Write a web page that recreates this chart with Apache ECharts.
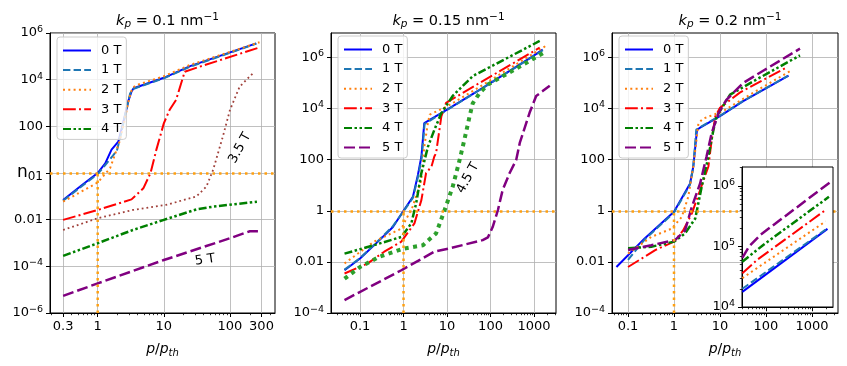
<!DOCTYPE html>
<html>
<head>
<meta charset="utf-8">
<script src="https://cdn.jsdelivr.net/npm/echarts@6/dist/echarts.min.js"></script>
<style>
  html, body { margin: 0; padding: 0; background: #fff; }
  #main { width: 847px; height: 366px; }
</style>
</head>
<body>
<div id="main"></div>
<script>
// ---- kp = 0.1 nm^-1 : [p/pth, n]
var k1_0T  = [[0.3,0.07],[0.6,0.33],[1,1.0],[1.3,2.6],[1.62,10],[2.05,22],[2.5,200],[2.9,1200],[3.25,3100],[3.5,4300],[10,12000],[25,38000],[250,360000]];
var k1_1T  = [[0.3,0.065],[0.6,0.3],[1,0.9],[1.3,2.2],[1.7,5.5],[1.95,9],[2.3,60],[2.7,500],[3.1,2600],[3.5,4100],[10,11500],[25,36000],[250,350000]];
var k1_2T  = [[0.3,0.059],[1,0.39],[1.54,1.6],[2.17,25],[2.6,250],[3.0,1600],[3.3,4000],[3.7,5600],[10,14000],[25,43000],[280,400000]];
var k1_3T  = [[0.3,0.0098],[1,0.026],[3.25,0.074],[4.9,0.22],[6.3,1.0],[7.7,9.8],[10,135],[12.2,500],[15.3,1350],[20.7,22000],[35,36000],[265,230000]];
var k1_35T = [[0.3,0.0036],[1,0.0115],[3.4,0.026],[10.8,0.043],[31,0.098],[44,0.26],[55.6,1.35],[78,36],[100,500],[140,5000],[187,11500],[235,22000]];
var k1_4T  = [[0.3,0.00028],[1,0.00098],[3.4,0.0036],[10,0.0098],[31,0.0275],[55.6,0.036],[256,0.059]];
var k1_5T  = [[0.3,5.4e-6],[1,1.86e-5],[10,1.86e-4],[100,0.0016],[200,0.0032],[265,0.0032]];

// ---- kp = 0.15 nm^-1
var k2_0T  = [[0.044,0.0047],[0.1,0.0135],[0.28,0.071],[0.57,0.23],[1,1],[1.64,3.5],[2.14,25],[2.57,130],[3.0,2700],[3.3,2900],[10,9000],[56,54000],[930,1.1e6],[1580,2.0e6]];
var k2_1T  = [[0.044,0.005],[0.1,0.014],[0.28,0.075],[0.57,0.25],[1,0.95],[1.64,3.2],[2.2,25],[2.62,120],[3.05,2500],[3.4,2800],[10,8800],[56,53000],[1000,1.15e6],[1600,1.9e6]];
var k2_2T  = [[0.044,0.0087],[0.21,0.062],[0.89,0.2],[1.62,1.45],[2.57,16],[3.0,316],[3.63,2700],[4.0,5800],[10,12000],[79,1e5],[2100,3.2e6]];
var k2_3T  = [[0.044,0.0035],[0.15,0.0087],[0.36,0.025],[0.89,0.062],[1.78,0.32],[2.57,2.6],[3.3,30],[4.4,54],[5.1,132],[5.6,180],[7.4,4900],[9.5,16600],[56,1e5],[1350,2.4e6]];
var k2_4T  = [[0.044,0.021],[0.21,0.045],[0.89,0.095],[1.51,0.32],[1.95,1.95],[2.57,30],[3.63,316],[5.1,1450],[7.4,6600],[13.5,31000],[39,186000],[1350,4.4e6]];
var k2_45T = [[0.044,0.0022],[0.1,0.0063],[0.28,0.016],[1,0.033],[2.8,0.045],[5.6,0.13],[8.7,1.0],[13.5,8.7],[19.5,98],[25,590],[33,4900],[39,16000],[56,40000],[87,87000],[320,3e5],[1740,1.6e6]];
var k2_5T  = [[0.044,3.2e-4],[0.89,0.0047],[5.1,0.025],[11.5,0.034],[66,0.071],[87,0.091],[112,0.23],[148,1.07],[190,6.5],[275,30],[390,98],[470,450],[790,6800],[1120,31000],[1580,48000],[2300,78000]];

// ---- kp = 0.2 nm^-1
var k3_0T  = [[0.056,0.0063],[0.23,0.083],[1,0.91],[2.24,11.7],[2.63,54],[3.16,1450],[3.55,1700],[10,5000],[32,19500],[310,195000]];
var k3_1T  = [[0.1,0.012],[0.23,0.075],[1,0.85],[2.2,10],[2.6,45],[3.05,1500],[3.5,1750],[10,5200],[32,20000],[300,190000]];
var k3_2T  = [[0.1,0.021],[0.32,0.095],[0.89,0.2],[1.48,0.58],[2.04,3.5],[2.63,54],[3.4,2700],[4.3,4000],[11.7,7900],[45,35000],[340,295000]];
var k3_3T  = [[0.1,0.0063],[0.39,0.029],[1,0.062],[1.58,0.17],[2.45,0.79],[3.7,6.5],[5.6,54],[6.6,590],[7.9,4900],[10,10700],[27,42000],[280,4e5]];
var k3_4T  = [[0.1,0.034],[0.32,0.039],[1,0.062],[1.74,0.13],[2.9,0.5],[4.0,8.7],[5.6,132],[7.2,1450],[8.5,5000],[16.6,35000],[63,138000],[550,1.2e6]];
var k3_5T  = [[0.1,0.029],[0.32,0.045],[1.05,0.071],[1.74,0.17],[2.45,1.45],[3.7,11.7],[5.1,132],[6.6,1100],[9.3,6600],[13.8,22000],[32,1e5],[87,3e5],[550,2.2e6]];

// ---- inset of kp = 0.2 panel
var in_0T = [[30,17800],[2140,195000]];
var in_1T = [[30,20000],[1950,190000]];
var in_2T = [[30,30000],[1950,260000]];
var in_3T = [[30,36000],[63,60000],[1950,400000]];
var in_4T = [[30,56000],[87,107000],[2300,660000]];
var in_5T = [[30,65000],[42,100000],[74,155000],[2750,1.23e6]];

// reference lines (n = 1, p = pth)
var refV1 = [[1,1e-6],[1,1]];
var refV2 = [[1,1e-4],[1,1]];

// ticks
var X1_TICKS = [0.3, 1, 10, 100, 300];
var X23_TICKS = [0.1, 1, 10, 100, 1000];
var Y1_TICKS = [1e-6, 1e-4, 0.01, 1, 100, 1e4, 1e6];
var Y23_TICKS = [1e-4, 0.01, 1, 100, 1e4, 1e6];
var XIN_TICKS = [100, 1000];
var YIN_TICKS = [1e4, 1e5, 1e6];

var LEGEND_NAMES = ['0 T', '1 T', '2 T', '3 T', '4 T', '5 T'];

var FONT = 'DejaVu Sans';
var STY = {
  '0 T':   { color: '#0000ff', width: 2,   dash: 'solid' },
  '1 T':   { color: '#1f77b4', width: 2,   dash: [7.4, 3.2] },
  '2 T':   { color: '#ff7f0e', width: 2,   dash: [2, 3.3] },
  '3 T':   { color: '#ff0000', width: 2,   dash: [12.8, 3.2, 2, 3.2] },
  '4 T':   { color: '#008000', width: 2.5, dash: [8, 2.5, 2.5, 2.5, 2.5, 2.5] },
  '5 T':   { color: '#800080', width: 2.5, dash: [11, 4] },
  '3.5 T': { color: '#a0403a', width: 1.8, dash: [1.8, 3] },
  '4.5 T': { color: '#2ca02c', width: 4,   dash: [4, 4.5] }
};

function minors(lo, hi) {
  var out = [];
  for (var e = lo; e <= hi; e++) {
    for (var m = 2; m <= 9; m++) out.push(+(m * Math.pow(10, e)).toPrecision(3));
  }
  return out;
}

var supRich = {
  sup: { fontSize: 9.5, padding: [0, 0, 7, 0] },
  n: { fontSize: 17 },
  sub: { fontSize: 12, padding: [8, 0, 0, 0] }
};

function yFmt(useN) {
  return function (v) {
    var e = Math.round(Math.log10(v));
    if (e === 0) return useN ? '{n|n}{sub|01}' : '1';
    if (e === 2) return '100';
    if (e === -2) return '0.01';
    return '10{sup|' + (e < 0 ? '\u2212' + (-e) : e) + '}';
  };
}
function xFmt(v) { return String(+(+v).toPrecision(3)); }

var nameRich = {
  i: { fontStyle: 'italic', fontSize: 14 },
  isub: { fontStyle: 'italic', fontSize: 10, padding: [7, 0, 0, 0] }
};

function xMajor(g, min, max, ticks) {
  return {
    type: 'log', logBase: 10, gridIndex: g, min: min, max: max, position: 'bottom',
    axisLine: { show: true, onZero: false, lineStyle: { color: '#000', width: 1 } },
    axisTick: { show: true, length: 4, customValues: ticks, lineStyle: { color: '#000', width: 1 } },
    axisLabel: { show: true, customValues: ticks, formatter: xFmt, margin: 7, fontSize: 13, color: '#000', fontFamily: FONT },
    splitLine: { show: true, lineStyle: { color: '#b0b0b0', width: 0.8 } },
    name: '{i|p}/{i|p}{isub|th}', nameLocation: 'middle', nameGap: 28,
    nameTextStyle: { fontSize: 14, color: '#000', fontFamily: FONT, rich: nameRich }
  };
}
function minorAxis(kind, g, min, max, vals, z) {
  return {
    type: 'log', logBase: 10, gridIndex: g, min: min, max: max,
    position: kind === 'x' ? 'bottom' : 'left', z: z || 0,
    axisLine: { show: false },
    axisTick: { show: true, length: 2.2, customValues: vals, lineStyle: { color: '#000', width: 0.8 } },
    axisLabel: { show: false },
    splitLine: { show: false }
  };
}
function yMajor(g, min, max, ticks, useN) {
  return {
    type: 'log', logBase: 10, gridIndex: g, min: min, max: max, position: 'left',
    axisLine: { show: true, onZero: false, lineStyle: { color: '#000', width: 1 } },
    axisTick: { show: true, length: 4, customValues: ticks, lineStyle: { color: '#000', width: 1 } },
    axisLabel: { show: true, customValues: ticks, formatter: yFmt(useN), margin: 7, fontSize: 13, color: '#000', fontFamily: FONT, rich: supRich },
    splitLine: { show: true, lineStyle: { color: '#b0b0b0', width: 0.8 } }
  };
}

function curve(name, data, xi, yi, z) {
  var s = STY[name];
  return {
    name: name, type: 'line', data: data, xAxisIndex: xi, yAxisIndex: yi,
    symbol: 'none', showSymbol: false, silent: true, z: z || 2,
    lineStyle: { color: s.color, width: s.width, type: s.dash, cap: 'butt' },
    itemStyle: { color: s.color }
  };
}
function refLine(data, xi, yi) {
  var st = { color: '#ffa010', width: 2.5, type: [2.5, 4], cap: 'butt' };
  return {
    type: 'line', data: data, xAxisIndex: xi, yAxisIndex: yi, symbol: 'none', silent: true, z: 3,
    lineStyle: st,
    markLine: { symbol: 'none', silent: true, animation: false, label: { show: false },
      lineStyle: st, data: [{ yAxis: 1 }] }
  };
}

var series = [];
[['0 T', k1_0T], ['1 T', k1_1T], ['2 T', k1_2T], ['3 T', k1_3T], ['4 T', k1_4T], ['5 T', k1_5T], ['3.5 T', k1_35T]]
  .forEach(function (d) { series.push(curve(d[0], d[1], 0, 0)); });
[['0 T', k2_0T], ['1 T', k2_1T], ['2 T', k2_2T], ['3 T', k2_3T], ['4 T', k2_4T], ['5 T', k2_5T], ['4.5 T', k2_45T]]
  .forEach(function (d) { series.push(curve(d[0], d[1], 1, 1)); });
[['0 T', k3_0T], ['1 T', k3_1T], ['2 T', k3_2T], ['3 T', k3_3T], ['4 T', k3_4T], ['5 T', k3_5T]]
  .forEach(function (d) { series.push(curve(d[0], d[1], 2, 2)); });
[['0 T', in_0T], ['1 T', in_1T], ['2 T', in_2T], ['3 T', in_3T], ['4 T', in_4T], ['5 T', in_5T]]
  .forEach(function (d) { series.push(curve(d[0], d[1], 3, 3, 12)); });
series.push(refLine(refV1, 0, 0));
series.push(refLine(refV2, 1, 1));
series.push(refLine(refV2, 2, 2));

var X1 = [0.19, 480], X2 = [0.0215, 3200], X3 = [0.0448, 3690], XIN = [29.5, 2820];
var Y1 = [1e-6, 1e6], Y23 = [1e-4, 9e6], YIN = [1e4, 2.05e6];

function legend(left, top, names) {
  return {
    orient: 'vertical', left: left, top: top, data: names,
    itemWidth: 28, itemHeight: 12, itemGap: 6.6,
    padding: [7, 5, 4, 5],
    backgroundColor: 'rgba(255,255,255,0.8)', borderColor: '#cccccc', borderWidth: 1, borderRadius: 3,
    itemStyle: { opacity: 0 },
    textStyle: { fontSize: 13, color: '#000', fontFamily: FONT, padding: [0, 0, 0, 5] },
    selectedMode: false
  };
}

var titleRich = {
  i: { fontStyle: 'italic', fontSize: 14.5 },
  isub: { fontStyle: 'italic', fontSize: 10.5, padding: [7, 0, 0, 0] },
  sup: { fontSize: 10.5, padding: [0, 0, 7, 0] }
};
function title(x, kp) {
  return { text: '{i|k}{isub|p} = ' + kp + ' nm{sup|\u22121}', left: x, top: 7, textAlign: 'center',
    textStyle: { fontSize: 14.5, fontWeight: 'normal', color: '#000', fontFamily: FONT, rich: titleRich } };
}

var gridBase = { show: true, borderColor: '#000', borderWidth: 1, backgroundColor: '#fff', containLabel: false, outerBoundsMode: 'none' };

var option = {
  animation: false,
  backgroundColor: '#fff',
  title: [title(162.5, '0.1'), title(443.5, '0.15'), title(725, '0.2')],
  grid: [
    Object.assign({ left: 50, top: 33, width: 225, height: 280 }, gridBase),
    Object.assign({ left: 331, top: 33, width: 225, height: 280 }, gridBase),
    Object.assign({ left: 612, top: 33, width: 226, height: 280 }, gridBase),
    Object.assign({ left: 742, top: 167, width: 91, height: 140, z: 10 }, gridBase)
  ],
  legend: [
    legend(57, 37, LEGEND_NAMES.slice(0, 5)),
    legend(338, 36, LEGEND_NAMES),
    legend(619, 36, LEGEND_NAMES)
  ],
  xAxis: [
    xMajor(0, X1[0], X1[1], X1_TICKS),
    xMajor(1, X2[0], X2[1], X23_TICKS),
    xMajor(2, X3[0], X3[1], X23_TICKS),
    Object.assign(xMajor(3, XIN[0], XIN[1], XIN_TICKS), { z: 11, name: '', axisLabel: { show: false }, splitLine: { show: false } }),
    minorAxis('x', 0, X1[0], X1[1], minors(-1, 2)),
    minorAxis('x', 1, X2[0], X2[1], minors(-2, 3)),
    minorAxis('x', 2, X3[0], X3[1], minors(-2, 3)),
    minorAxis('x', 3, XIN[0], XIN[1], minors(1, 3), 11)
  ],
  yAxis: [
    yMajor(0, Y1[0], Y1[1], Y1_TICKS, true),
    yMajor(1, Y23[0], Y23[1], Y23_TICKS, false),
    yMajor(2, Y23[0], Y23[1], Y23_TICKS, false),
    Object.assign(yMajor(3, YIN[0], YIN[1], YIN_TICKS, false), { z: 11, splitLine: { show: false } }),
    minorAxis('y', 3, YIN[0], YIN[1], minors(4, 6), 11)
  ],
  graphic: [
    { type: 'text', x: 240, y: 148, rotation: 1.07, z: 20,
      style: { text: '3.5 T', font: '13px "DejaVu Sans"', fill: '#000', align: 'center', verticalAlign: 'middle' } },
    { type: 'text', x: 205, y: 260, rotation: 0.15, z: 20,
      style: { text: '5 T', font: '13px "DejaVu Sans"', fill: '#000', align: 'center', verticalAlign: 'middle' } },
    { type: 'text', x: 468, y: 178, rotation: 1.07, z: 20,
      style: { text: '4.5 T', font: '13px "DejaVu Sans"', fill: '#000', align: 'center', verticalAlign: 'middle' } }
  ],
  series: series
};

var chart = echarts.init(document.getElementById('main'), null, { renderer: 'canvas' });
chart.setOption(option);
</script>
</body>
</html>
